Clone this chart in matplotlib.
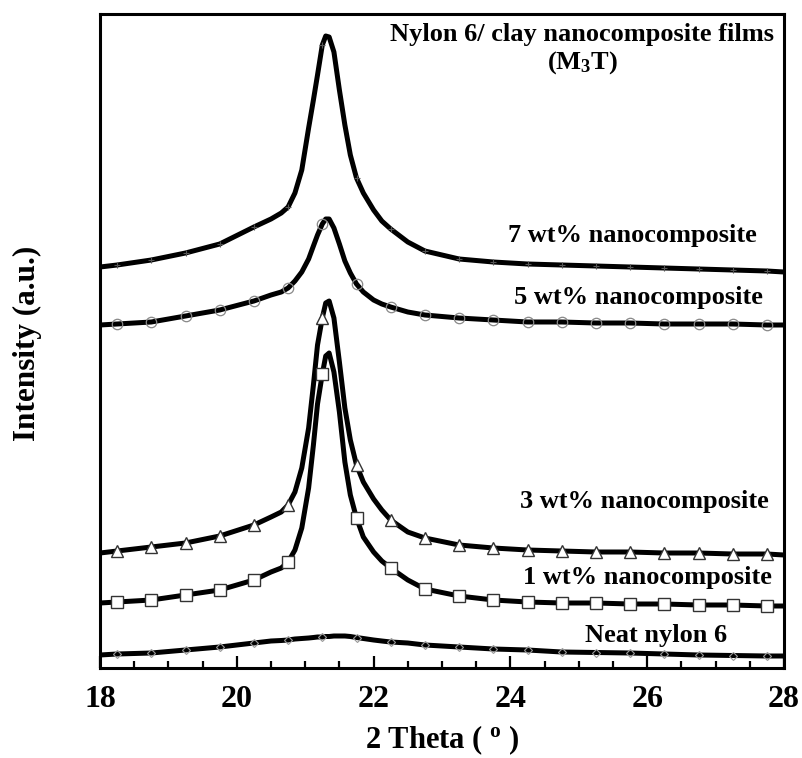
import matplotlib
matplotlib.use("Agg")
import matplotlib.pyplot as plt
from matplotlib.ticker import MultipleLocator

plt.rcParams['font.family'] = ['Liberation Serif', 'DejaVu Serif']
plt.rcParams['font.weight'] = 'bold'
plt.rcParams['mathtext.fontset'] = 'custom'
plt.rcParams['mathtext.rm'] = 'Liberation Serif:bold'
plt.rcParams['mathtext.it'] = 'Liberation Serif:bold'
plt.rcParams['mathtext.bf'] = 'Liberation Serif:bold'

# 2 Theta grid (degrees)
two_theta = [18.0, 18.25, 18.75, 19.25, 19.75, 20.25, 20.5, 20.65, 20.75, 20.85,
             20.95, 21.05, 21.12, 21.18, 21.25, 21.3, 21.35, 21.42, 21.5, 21.58,
             21.66, 21.75, 21.85, 22.0, 22.12, 22.25, 22.5, 22.75, 23.25, 23.75,
             24.25, 24.75, 25.25, 25.75, 26.25, 26.75, 27.25, 27.75, 28.0]

# stacked intensities (a.u., offset for display)
wt7 = [401, 403, 408, 415, 424, 441, 449, 455, 461, 475,
       498, 540, 568, 593, 623, 632, 631, 616, 578, 543,
       513, 490, 475, 458, 447, 439, 426, 417, 409, 406,
       404, 403, 402, 401, 400, 399, 398, 397, 396]
wt5 = [343, 344, 346, 352, 358, 367, 373, 376, 380, 387,
       396, 409, 422, 433, 444, 449, 449, 440, 424, 407,
       395, 384, 376, 368, 364, 361, 356, 353, 350, 348,
       346, 346, 345, 345, 344, 344, 344, 343, 343]
wt3 = [115, 117, 121, 125, 132, 143, 151, 156, 163, 176,
       200, 240, 283, 323, 350, 365, 367, 350, 306, 260,
       228, 203, 186, 169, 158, 148, 136, 130, 123, 120,
       118, 117, 116, 116, 115, 115, 114, 114, 113]
wt1 = [65, 66, 68, 73, 78, 88, 96, 100, 106, 118,
       140, 180, 223, 264, 294, 312, 315, 296, 256, 206,
       173, 150, 131, 116, 107, 100, 88, 79, 72, 68,
       66, 65, 65, 64, 64, 63, 63, 62, 62]
neat = [13, 14, 15, 18, 21, 25, 27, 27.5, 28, 29,
        29.5, 30, 30.5, 31, 31, 31.5, 31.5, 32, 32, 32,
        31.5, 30.5, 29.5, 28, 27, 26, 25, 23, 21, 19,
        18, 16, 15.5, 15, 14, 13, 12.5, 12, 12]

labels = ["7 wt% nanocomposite", "5 wt% nanocomposite", "3 wt% nanocomposite",
          "1 wt% nanocomposite", "Neat nylon 6"]
xticks = [18, 20, 22, 24, 26, 28]

# marker positions (every 0.5 deg starting at 18.25)
mark_idx = [i for i, x in enumerate(two_theta)
            if x > 18.1 and abs(((x - 18.25) / 0.5) - round((x - 18.25) / 0.5)) < 1e-6]

fig = plt.figure(figsize=(8.02, 7.58), dpi=100)
ax = fig.add_axes([100/802, 1-668/758, 684/802, 654/758])

lw = 3.6
common = dict(color='black', lw=lw, markevery=mark_idx, zorder=3,
              solid_joinstyle='round', solid_capstyle='round')
ax.plot(two_theta, wt7, marker='+', ms=5, mec='#555555', mew=0.8, **common)
ax.plot(two_theta, wt5, marker='o', ms=7.5, mfc='none', mec='#888888', mew=0.9, **common)
ax.plot(two_theta, wt3, marker='^', ms=8, mfc='white', mec='#333333', mew=1.0, **common)
ax.plot(two_theta, wt1, marker='s', ms=9, mfc='white', mec='#333333', mew=1.0, **common)
ax.plot(two_theta, neat, marker='D', ms=4.5, mfc='none', mec='#999999', mew=0.8, **common)

ax.set_xlim(18, 28)
ax.set_ylim(0, 654)
ax.set_xticks(xticks)
ax.set_xticklabels([str(t) for t in xticks])
ax.xaxis.set_minor_locator(MultipleLocator(0.5))
ax.set_yticks([])
ax.tick_params(axis='x', which='major', direction='in', length=9, width=1.6,
               labelsize=23, pad=12, top=False)
ax.tick_params(axis='x', which='minor', direction='in', length=5, width=1.6, top=False)
for lab in ax.get_xticklabels():
    lab.set_fontweight('bold')
for s in ax.spines.values():
    s.set_linewidth(2.2)

fig.text(442/802, 1-748/758, r"2 Theta ( $^{\mathrm{o}}$ )", fontsize=22,
         fontweight='bold', ha='center', va='baseline')
fig.text(27/802, 1-343/758, "Intensity (a.u.)", fontsize=22.5, fontweight='bold',
         rotation=90, ha='center', va='center')

tkw = dict(transform=ax.transAxes, fontsize=19, fontweight='bold')
ax.text(0.705, 0.968, "Nylon 6/ clay nanocomposite films", ha='center', va='center', **tkw)
ax.text(0.705, 0.925, r"(M$_{3}$T)", ha='center', va='center', **tkw)
ax.text(0.9605, 0.662, labels[0], ha='right', va='center', **tkw)
ax.text(0.969, 0.566, labels[1], ha='right', va='center', **tkw)
ax.text(0.977, 0.254, labels[2], ha='right', va='center', **tkw)
ax.text(0.982, 0.138, labels[3], ha='right', va='center', **tkw)
ax.text(0.917, 0.050, labels[4], ha='right', va='center', **tkw)

fig.savefig("out.png", dpi=100)
